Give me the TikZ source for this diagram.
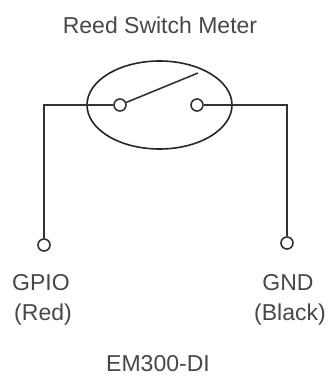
\documentclass[tikz,border=0pt]{standalone}
\usepackage{fontspec}
\setmainfont{Liberation Sans}
\usetikzlibrary{shapes.geometric}

\begin{document}
\begin{tikzpicture}[
    x = 1pt,
    y = -1pt,
    line width = 1.6pt,
    draw = black!80,
    terminal/.style = {
      draw = black!80,
      fill = white,
      circle,
      inner sep = 0pt,
      minimum size = 12pt
    },
    caption/.style = {
      text = black!72,
      font = \fontsize{23}{27}\selectfont,
      inner sep = 0pt
    }
  ]
  \useasboundingbox (0,0) rectangle (328,378);

  \node[ellipse, draw = black!85, minimum width = 145pt, minimum height = 88pt, inner sep = 0pt] (meter) at (159.5,105) {};

  \coordinate (cornerL) at (44,105);
  \coordinate (cornerR) at (287,105);
  \coordinate (armEnd) at (198,73);

  \draw (120,105) node[terminal] (contactL) {};
  \draw (197,105) node[terminal] (contactR) {};
  \draw (44,245) node[terminal] (pinL) {};
  \draw (287,243) node[terminal] (pinR) {};

  \draw (contactL) -- (cornerL) -- (pinL);
  \draw (contactR) -- (cornerR) -- (pinR);
  \draw (contactL) -- (armEnd);

  \draw (160,25) node[caption] (title) {Reed Switch Meter};
  \draw (41,283) node[caption] (gpio) {GPIO};
  \draw (43,315) node[caption] (red) {(Red)};
  \draw (288,283) node[caption] (gnd) {GND};
  \draw (290,315) node[caption] (black) {(Black)};
  \draw (158,364) node[caption] (model) {EM300-DI};
\end{tikzpicture}
\end{document}
